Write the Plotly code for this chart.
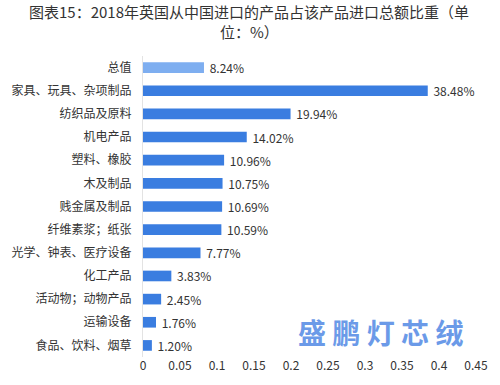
import plotly.graph_objects as go

categories = ["总值", "家具、玩具、杂项制品", "纺织品及原料", "机电产品", "塑料、橡胶",
              "木及制品", "贱金属及制品", "纤维素浆；纸张", "光学、钟表、医疗设备",
              "化工产品", "活动物；动物产品", "运输设备", "食品、饮料、烟草"]
values = [0.0824, 0.3848, 0.1994, 0.1402, 0.1096, 0.1075, 0.1069, 0.1059, 0.0777,
          0.0383, 0.0245, 0.0176, 0.0120]
labels = ["8.24%", "38.48%", "19.94%", "14.02%", "10.96%", "10.75%", "10.69%",
          "10.59%", "7.77%", "3.83%", "2.45%", "1.76%", "1.20%"]
tick_vals = [0, 0.05, 0.1, 0.15, 0.2, 0.25, 0.3, 0.35, 0.4, 0.45]
tick_text = ["0", "0.05", "0.1", "0.15", "0.2", "0.25", "0.3", "0.35", "0.4", "0.45"]
title_lines = ["图表15：2018年英国从中国进口的产品占该产品进口总额比重（单", "位：%）"]

colors = ["#7eaef0"] + ["#3a7de0"] * (len(values) - 1)

font = "Noto Sans CJK SC, Noto Sans, sans-serif"

fig = go.Figure(go.Bar(
    x=values, y=categories, orientation="h",
    marker=dict(color=colors, line=dict(width=0)),
    text=labels, texttemplate=" %{text}", textposition="outside",
    cliponaxis=False, constraintext="none",
    textfont=dict(size=12, color="#333333", family=font),
    width=0.46,
))

fig.update_layout(
    width=500, height=385,
    margin=dict(l=141, r=17, t=56, b=28),
    paper_bgcolor="white", plot_bgcolor="white",
    showlegend=False,
    font=dict(family=font, size=12, color="#333333"),
    xaxis=dict(range=[0, 0.45], tickvals=tick_vals, ticktext=tick_text,
               showgrid=False, zeroline=False, showline=False, ticks="",
               tickfont=dict(size=12, color="#333333")),
    yaxis=dict(autorange="reversed", showgrid=False, zeroline=False,
               showline=True, linecolor="#e3e3e3", linewidth=1, ticks="",
               ticklabelstandoff=8,
               tickfont=dict(size=12, color="#333333")),
)

plot_h = 385 - 56 - 28
for line, yc in zip(title_lines, [12, 32]):
    fig.add_annotation(text=line, xref="paper", yref="paper",
                       x=(250 - 141) / 342, y=1 + (56 - yc) / plot_h,
                       xanchor="center", yanchor="middle", showarrow=False,
                       font=dict(size=15, color="#333333", family=font))

fig.add_annotation(text="盛 鹏 灯 芯 绒", xref="paper", yref="paper",
                   x=(472 - 141) / 342, y=(357 - 332) / plot_h, xanchor="right", yanchor="middle",
                   showarrow=False,
                   font=dict(size=28, color="#6b9ae8", family=font, weight="bold"))

fig.write_html("out.html", config={"displayModeBar": False},
               post_script="document.body.style.margin='0';")
